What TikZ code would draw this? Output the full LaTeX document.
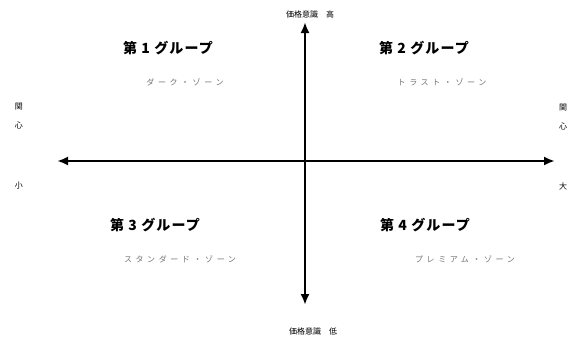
\documentclass[tikz,border=0pt]{standalone}
\usepackage{fontspec}
\newfontfamily\jp{Noto Sans CJK JP}
\usetikzlibrary{arrows.meta}
\begin{document}
\begin{tikzpicture}[x=1pt,y=-1pt,
  axis/.style={line width=2.2pt, {Latex[length=11pt,width=9pt]}-{Latex[length=11pt,width=9pt]}},
  grp/.style={font=\jp\bfseries\fontsize{14}{16}\selectfont\addfontfeature{LetterSpace=8}, inner sep=0pt},
  sub/.style={font=\jp\fontsize{8}{10}\selectfont\addfontfeature{LetterSpace=45}, text=black!55, inner sep=0pt},
  lab/.style={font=\jp\fontsize{8}{10}\selectfont, inner sep=0pt, align=center}
]
\useasboundingbox (0,0) rectangle (582,343);
% axes
\coordinate (W) at (57,161);
\coordinate (E) at (555,161);
\coordinate (N) at (305,22);
\coordinate (S) at (305,305);
\draw[axis] (W) -- (E);
\draw[axis] (N) -- (S);
% axis labels
\node[lab] (top) at (310,14) {価格意識\quad 高};
\node[lab] (bot) at (313,331) {価格意識\quad 低};
\node[lab] (lft) at (19,116) {関\\[9pt]心};
\node[lab] (lfb) at (19,186) {小};
\node[lab] (rgt) at (563,117) {関\\[9pt]心};
\node[lab] (rgb) at (563,186) {大};
% groups
\foreach \n/\x/\y/\sx/\st in {1/168/48/185/ダーク・ゾーン,
                               2/424/48/442/トラスト・ゾーン,
                               3/155/225/180/スタンダード・ゾーン,
                               4/425/225/465/プレミアム・ゾーン} {
  \node[grp] (g\n) at (\x,\y) {第 \n\ グループ};
  \node[sub] (s\n) at (\sx,\y+34) {\st};
}
\end{tikzpicture}
\end{document}
